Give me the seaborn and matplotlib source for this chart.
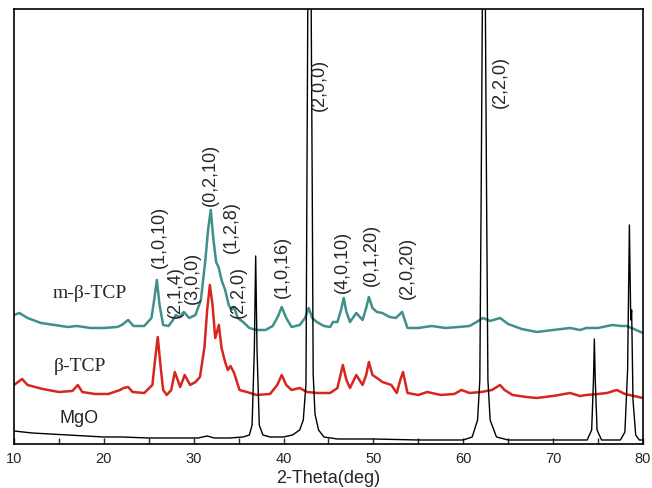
import numpy as np
import pandas as pd
import matplotlib
matplotlib.use("Agg")
import matplotlib.pyplot as plt
import seaborn as sns

# 2-theta / intensity (arbitrary units, stacked offsets included)
tcp_m_x = [10.0, 10.6, 11.5, 13.0, 14.5, 16.0, 17.0, 18.5, 20.0, 21.5, 22.0, 22.7, 23.3, 24.5,
           25.3, 25.6, 25.9, 26.2, 26.6, 27.2, 27.7, 28.0, 28.4, 28.9, 29.5, 30.2, 30.8, 31.3,
           31.6, 31.9, 32.2, 32.5, 32.8, 33.1, 33.5, 33.9, 34.2, 34.5, 34.9, 35.5, 36.2, 37.0,
           38.0, 38.8, 39.4, 39.8, 40.3, 40.9, 41.8, 42.4, 42.8, 43.2, 43.7, 44.5, 45.2, 45.5,
           46.0, 46.4, 46.7, 47.0, 47.4, 48.1, 48.8, 49.2, 49.5, 49.9, 50.4, 51.0, 51.8, 52.5,
           53.2, 53.8, 55.0, 56.5, 58.0, 59.5, 60.7, 61.5, 62.2, 63.0, 64.1, 65.0, 66.5, 68.2,
           70.0, 71.9, 73.0, 73.7, 75.0, 76.6, 77.5, 78.2, 79.0, 80.0]
tcp_m_y = [129, 131, 126, 121, 119, 117, 118, 116, 116, 117, 119, 124, 118, 118,
           126, 144, 164, 139, 119, 118, 124, 129, 127, 132, 126, 129, 144, 184,
           214, 234, 204, 182, 176, 164, 154, 139, 134, 137, 126, 122, 116, 114,
           114, 118, 128, 137, 126, 117, 119, 126, 136, 126, 122, 118, 117, 122,
           122, 134, 146, 132, 122, 131, 124, 136, 147, 136, 132, 131, 127, 126,
           132, 116, 116, 118, 116, 117, 118, 122, 126, 123, 126, 120, 115, 112,
           114, 116, 114, 116, 116, 119, 118, 118, 115, 111]

tcp_x = [10.0, 10.3, 10.9, 11.5, 13.2, 15.0, 16.5, 17.1, 17.6, 19.0, 20.5, 21.8, 22.2, 22.7,
         23.2, 24.5, 25.4, 25.7, 26.0, 26.3, 26.6, 27.0, 27.5, 27.9, 28.5, 29.0, 29.6, 30.2,
         30.7, 31.2, 31.5, 31.8, 32.1, 32.4, 32.8, 33.1, 33.5, 33.8, 34.1, 34.5, 35.1, 35.9,
         37.0, 38.5, 39.3, 39.8, 40.3, 40.9, 41.8, 42.6, 43.7, 45.2, 46.0, 46.6, 47.0, 47.4,
         48.1, 48.8, 49.2, 49.5, 49.9, 50.4, 51.0, 52.0, 52.6, 53.0, 53.3, 53.8, 55.0, 56.0,
         57.5, 59.0, 59.8, 60.7, 62.0, 63.2, 64.1, 64.6, 65.5, 67.0, 68.2, 70.0, 71.9, 73.0,
         73.7, 75.0, 76.0, 77.1, 78.0, 79.0, 80.0]
tcp_y = [59, 61, 65, 59, 55, 52, 53, 59, 52, 50, 50, 54, 56, 57,
         52, 51, 59, 84, 107, 79, 54, 49, 54, 72, 57, 69, 59, 62,
         67, 97, 134, 159, 139, 106, 119, 96, 82, 74, 78, 71, 54, 52,
         49, 50, 59, 69, 59, 54, 56, 52, 51, 51, 56, 79, 64, 56,
         69, 59, 69, 82, 69, 66, 62, 59, 51, 64, 72, 51, 49, 52,
         49, 50, 54, 51, 52, 54, 59, 54, 49, 47, 46, 48, 51, 48,
         49, 50, 51, 54, 50, 48, 46]

mgo_x = [10.0, 12.0, 14.0, 16.0, 18.0, 20.0, 22.0, 25.0, 28.0, 30.5, 31.5, 32.3, 34.0, 35.5,
         36.2, 36.5, 36.75, 36.9, 37.05, 37.3, 37.7, 38.5, 40.0, 41.0, 41.8, 42.2, 42.5, 42.6,
         42.7, 42.9, 43.08, 43.2, 43.3, 43.5, 43.9, 44.5, 46.0, 50.0, 55.0, 60.0, 61.0, 61.6,
         61.85, 62.0, 62.13, 62.3, 62.47, 62.6, 62.75, 63.0, 63.7, 65.0, 70.0, 73.8, 74.3, 74.5,
         74.6, 74.7, 74.9, 75.4, 77.5, 78.0, 78.3, 78.5, 78.65, 78.75, 78.9, 79.2, 79.6, 80.0]
mgo_y = [13, 11, 10, 9, 8, 7, 7, 6, 6, 6, 8, 6, 6, 7,
         9, 19, 94, 188, 94, 19, 9, 7, 7, 9, 14, 24, 60, 250,
         434, 1500, 434, 250, 70, 30, 14, 7, 5, 5, 4, 4, 7, 24,
         64, 250, 434, 1500, 434, 250, 64, 24, 7, 4, 4, 4, 14, 64,
         105, 64, 14, 4, 4, 12, 74, 219, 124, 134, 44, 9, 4, 4]

hkl_labels = ["(1,0,10)", "(2,1,4)", "(3,0,0)", "(0,2,10)", "(1,2,8)", "(2,2,0)",
              "(1,0,16)", "(2,0,0)", "(4,0,10)", "(0,1,20)", "(2,0,20)", "(2,2,0)"]
hkl_x = [26.2, 28.0, 29.8, 31.9, 34.2, 35.0, 39.9, 44.0, 46.5, 49.8, 53.8, 64.1]
hkl_y = [177, 127, 141, 239, 192, 127, 147, 334, 152, 159, 146, 337]

sample_names = ["m-\u03b2-TCP", "\u03b2-TCP", "MgO"]

sns.set_style("ticks")
plt.rcParams["font.family"] = ["Liberation Sans", "DejaVu Sans"]

fig = plt.figure(figsize=(6.52, 4.89), dpi=100)
ax = fig.add_axes([0.0215, 0.090, 0.9645, 0.8896])

sns.lineplot(x=tcp_m_x, y=tcp_m_y, color="#3f8f8a", lw=1.8, ax=ax)
sns.lineplot(x=tcp_x, y=tcp_y, color="#d7261e", lw=1.8, ax=ax)
sns.lineplot(x=mgo_x, y=mgo_y, color="black", lw=1.0, ax=ax)

for lab, xx, yy in zip(hkl_labels, hkl_x, hkl_y):
    ax.text(xx, yy, lab, rotation=90, ha="center", va="bottom", fontsize=13)

ax.text(18.45, 151, sample_names[0], ha="center", va="center", fontsize=14,
        family=["Liberation Serif", "DejaVu Serif"])
ax.text(17.3, 78, sample_names[1], ha="center", va="center", fontsize=14,
        family=["Liberation Serif", "DejaVu Serif"])
ax.text(17.2, 26, sample_names[2], ha="center", va="center", fontsize=13)

ax.set_xlim(10, 80)
ax.set_ylim(0, 435)
ax.set_yticks([])
ax.set_xticks(range(10, 81, 10))
ax.set_xticks(range(15, 80, 10), minor=True)
ax.tick_params(axis="x", which="both", direction="in", length=4, width=1, labelsize=10.5, pad=5)
ax.set_xlabel("2-Theta(deg)", fontsize=13, labelpad=3)
for sp in ax.spines.values():
    sp.set_linewidth(1.2)
    sp.set_color("black")

fig.savefig("out.png", dpi=100)
